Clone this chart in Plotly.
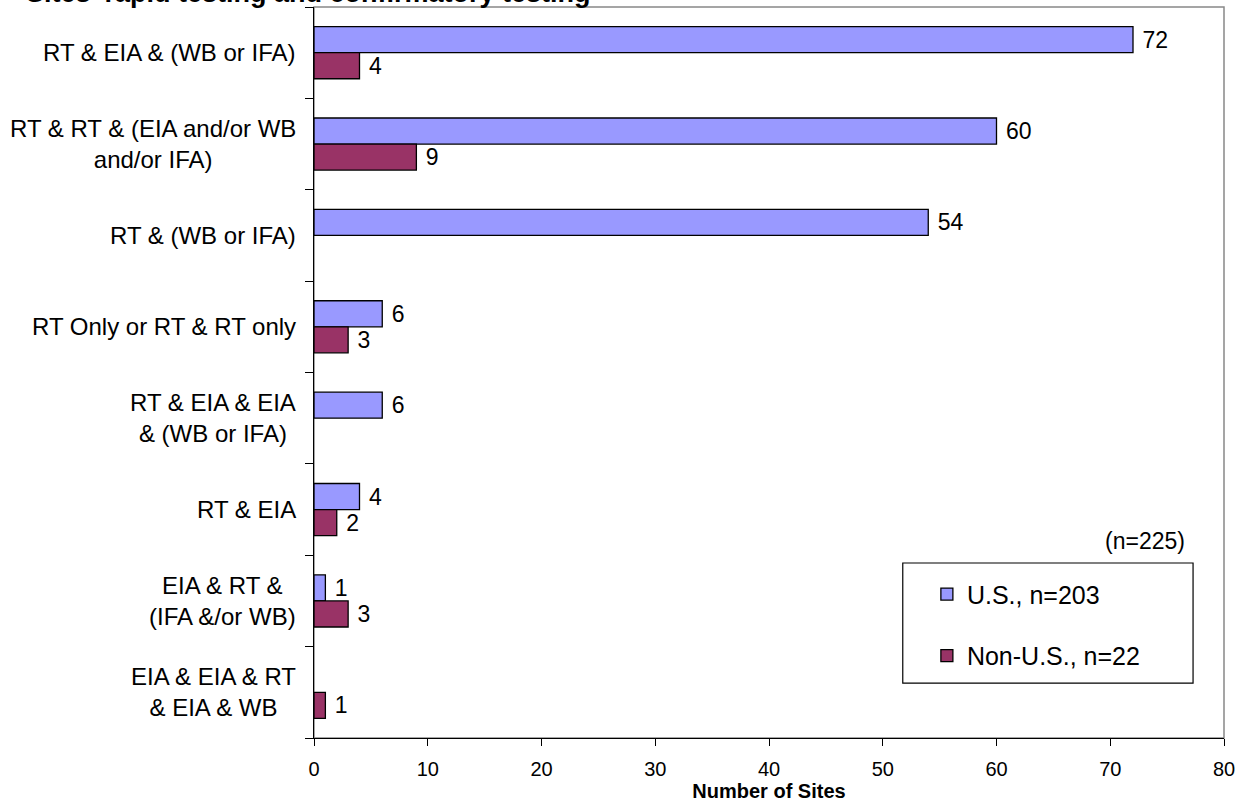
import plotly.graph_objects as go

categories = [
    "RT & EIA & (WB or IFA)",
    "RT & RT & (EIA and/or WB<br>and/or IFA)",
    "RT & (WB or IFA)",
    "RT Only or RT & RT only",
    "RT & EIA & EIA<br>& (WB or IFA)",
    "RT & EIA",
    "EIA & RT &<br>(IFA &/or WB)",
    "EIA & EIA & RT<br>& EIA & WB",
]
us_values = [72, 60, 54, 6, 6, 4, 1, None]
non_us_values = [4, 9, None, 3, None, 2, 3, 1]
series_names = ["U.S., n=203", "Non-U.S., n=22"]
series_colors = ["#9999FF", "#993366"]
x_ticks = [0, 10, 20, 30, 40, 50, 60, 70, 80]
title_text = "Sites' rapid testing and confirmatory testing"
x_title = "Number of Sites"
n_note = "(n=225)"

FONT = "Arial, Liberation Sans, sans-serif"
positions = list(range(len(categories)))

fig = go.Figure()
for i, (name, vals, col) in enumerate(zip(series_names, [us_values, non_us_values], series_colors)):
    fig.add_trace(go.Bar(
        y=positions, x=vals, orientation="h", name=name,
        legendgroup=f"g{i}",
        marker=dict(color=col, line=dict(color="black", width=1.3)),
        text=[("" if v is None else "\u00a0" + str(v)) for v in vals],
        textposition="outside", constraintext="none", cliponaxis=False,
        textfont=dict(family=FONT, size=23, color="black"),
        hoverinfo="skip",
    ))

for pos, cat in zip(positions, categories):
    fig.add_annotation(
        x=0, xref="paper", y=pos, yref="y", xshift=-16,
        text=cat, showarrow=False, xanchor="right", yanchor="middle",
        align="center", font=dict(family=FONT, size=24, color="black"),
    )

fig.add_annotation(
    x=0, xref="paper", y=1, yref="paper", xshift=-290, yshift=-3,
    text=f"<b>{title_text}</b>", showarrow=False, xanchor="left", yanchor="bottom",
    font=dict(family=FONT, size=27, color="black"),
)
fig.add_annotation(
    x=0.959, xref="paper", y=0.2695, yref="paper",
    text=n_note, showarrow=False, xanchor="right", yanchor="middle",
    font=dict(family=FONT, size=23, color="black"),
)

# plot frame (gray top/right) and legend box
fig.add_shape(type="rect", xref="paper", yref="paper", x0=0, x1=1, y0=0, y1=1,
              line=dict(color="#888888", width=1.5), layer="below")
fig.add_shape(type="rect", xref="paper", yref="paper", x0=0.647, x1=0.966, y0=0.0752, y1=0.2394,
              line=dict(color="black", width=1.2), fillcolor="rgba(0,0,0,0)")

fig.update_layout(
    width=1247, height=802,
    margin=dict(l=314, r=23, t=7, b=64),
    barmode="group", bargap=0.43, bargroupgap=0,
    plot_bgcolor="white", paper_bgcolor="white",
    font=dict(family=FONT, size=21, color="black"),
    showlegend=True,
    legend=dict(
        x=0.6735, xanchor="left", y=0.228, yanchor="top",
        bgcolor="rgba(0,0,0,0)", borderwidth=0,
        traceorder="grouped", tracegroupgap=26,
        font=dict(family=FONT, size=25, color="black"),
        itemwidth=30,
    ),
    xaxis=dict(
        range=[0, 80], tickvals=x_ticks, showgrid=False, zeroline=False,
        showline=True, linecolor="black", linewidth=1.3,
        ticks="outside", ticklen=7, tickcolor="black", tickwidth=1.3,
        tickfont=dict(family=FONT, size=20, color="black"),
        ticklabelstandoff=6,
        title=dict(text=f"<b>{x_title}</b>", font=dict(family=FONT, size=20, color="black"), standoff=3),
        automargin=False,
    ),
    yaxis=dict(
        range=[len(categories) - 0.5, -0.5],
        tickvals=[p - 0.5 for p in positions] + [len(categories) - 0.5],
        showticklabels=False, showgrid=False, zeroline=False,
        showline=True, linecolor="black", linewidth=1.3,
        ticks="outside", ticklen=8, tickcolor="black", tickwidth=1.3,
        automargin=False,
    ),
)

fig.write_html("out.html", config={"displayModeBar": False},
               post_script="document.body.style.margin='0';")
